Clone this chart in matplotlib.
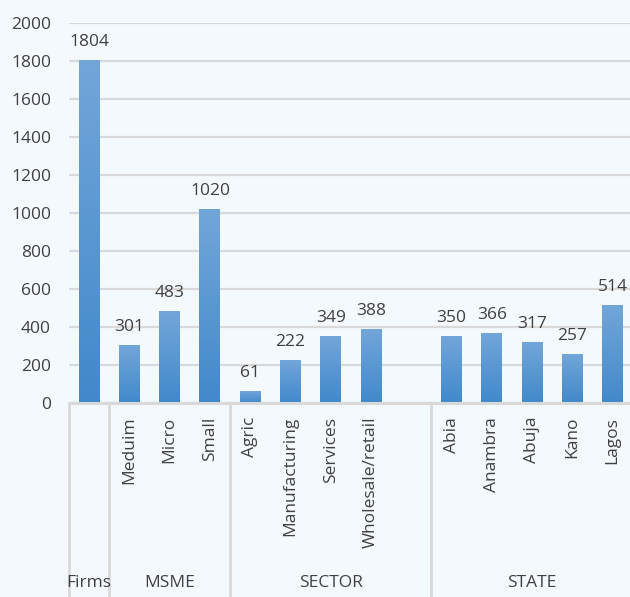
import numpy as np
import matplotlib
matplotlib.use("Agg")
import matplotlib.pyplot as plt
from matplotlib.colors import LinearSegmentedColormap

# ── data ──────────────────────────────────────────────────────────────────────
categories = ["", "Meduim", "Micro", "Small", "Agric", "Manufacturing",
              "Services", "Wholesale/retail", "", "Abia", "Anambra",
              "Abuja", "Kano", "Lagos"]
values = [1804, 301, 483, 1020, 61, 222, 349, 388, None, 350, 366, 317, 257, 514]
groups = ["Firms", "MSME", "SECTOR", "STATE"]
group_sizes = [1, 3, 5, 5]

BG = "#F3F9FD"
TXT = "#404040"
GRID = "#D9D9D9"
FS = 12.5
plt.rcParams["font.family"] = ["Open Sans", "DejaVu Sans"]

fig = plt.figure(figsize=(6.3, 5.97), dpi=100, facecolor=BG)
ax = fig.add_axes([0.1095, 0.325, 0.895, 0.6365], facecolor=BG)

# vertical gradient fill: darker at the base, lighter at the top
cmap = LinearSegmentedColormap.from_list("bar", ["#4189CB", "#72A6D9"])
grad = np.linspace(0, 1, 256).reshape(-1, 1)
width = 0.52
x = np.arange(len(categories))

for xi, v in zip(x, values):
    if v is None:
        continue
    ax.imshow(grad, cmap=cmap, origin="lower", aspect="auto",
              extent=(xi - width / 2, xi + width / 2, 0, v), zorder=2)
    ax.text(xi, v + 55, f"{v}", ha="center", va="bottom", fontsize=FS, color=TXT)

ax.set_xlim(-0.5, len(categories) - 0.5)
ax.set_ylim(0, 2000)
ax.set_yticks(range(0, 2001, 200))
ax.yaxis.grid(True, color=GRID, linewidth=1.6)
ax.set_axisbelow(True)
for s in ["top", "right", "left"]:
    ax.spines[s].set_visible(False)
ax.spines["bottom"].set_color(GRID)
ax.spines["bottom"].set_linewidth(2.2)
ax.tick_params(axis="y", length=0, pad=13, labelsize=FS, labelcolor=TXT)
ax.set_xticks(x)
ax.set_xticklabels(categories, rotation=90, fontsize=FS, color=TXT)
ax.tick_params(axis="x", length=0, pad=10)

# group labels and separators on the category axis
trans = ax.get_xaxis_transform()
start = -0.5
for g, n in zip(groups, group_sizes):
    ax.plot([start, start], [0, -0.52], transform=trans, color=GRID,
            linewidth=2, clip_on=False)
    ax.text(start + n / 2, -0.474, g, transform=trans, ha="center",
            va="center", fontsize=FS, color=TXT)
    start += n
ax.plot([start, start], [0, -0.52], transform=trans, color=GRID,
        linewidth=2, clip_on=False)

fig.savefig("out.png", dpi=100, facecolor=BG)
